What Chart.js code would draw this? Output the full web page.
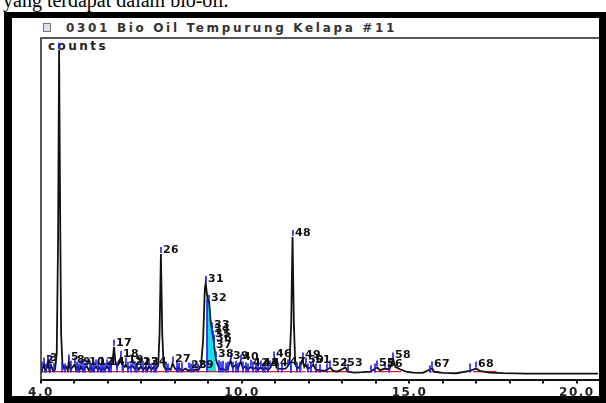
<!DOCTYPE html>
<html>
<head>
<meta charset="utf-8">
<script src="https://cdn.jsdelivr.net/npm/chart.js@4.4.0/dist/chart.umd.min.js"></script>
<style>
  html, body { margin: 0; padding: 0; background: #fff; width: 606px; height: 403px; overflow: hidden; }
  #caption { position: absolute; left: 3px; top: -11px; font: 20px "Liberation Serif", serif; color: #000; white-space: nowrap; }
  #frame { position: absolute; left: 4px; top: 12px; width: 602px; height: 391px; background: #000; }
  #inner { position: absolute; left: 12px; top: 18px; width: 587px; height: 378px; background: #fff; }
  #icon { position: absolute; left: 43px; top: 23px; width: 6px; height: 7px; border: 1px solid #777; background: #dde; }
  #title { position: absolute; left: 66px; top: 21px; font: bold 12px "DejaVu Sans", sans-serif; color: #333; white-space: nowrap; }
  #counts { position: absolute; left: 48px; top: 39px; font: bold 12px "DejaVu Sans", sans-serif; color: #222; white-space: nowrap; }
  canvas { position: absolute; left: 0; top: 0; }
</style>
</head>
<body>
<div id="caption">yang terdapat dalam bio-oil.</div>
<div id="frame"></div>
<div id="inner"></div>
<div id="icon"></div>
<div id="title">0301 Bio Oil Tempurung Kelapa #11</div>
<div id="counts">counts</div>
<canvas id="kromatogram" width="606" height="403"></canvas>
<script>
// retention time (min) and signal height (% of full scale) of the trace
const traceTimes = [4.00, 4.05, 4.09, 4.13, 4.18, 4.21, 4.25, 4.30, 4.36, 4.42, 4.47, 4.51, 4.54, 4.57, 4.60, 4.64, 4.69, 4.74, 4.80, 4.83,
  4.88, 4.95, 5.01, 5.05, 5.10, 5.15, 5.19, 5.25, 5.32, 5.37, 5.43, 5.49, 5.56, 5.64, 5.70, 5.73, 5.79, 5.85, 5.91, 5.97,
  6.03, 6.10, 6.14, 6.18, 6.22, 6.27, 6.32, 6.38, 6.43, 6.50, 6.53, 6.60, 6.68, 6.74, 6.80, 6.86, 6.92, 6.98, 7.05, 7.13,
  7.18, 7.22, 7.30, 7.37, 7.43, 7.50, 7.54, 7.58, 7.62, 7.66, 7.72, 7.80, 7.87, 7.93, 8.00, 8.06, 8.11, 8.20, 8.32, 8.40,
  8.47, 8.55, 8.62, 8.70, 8.78, 8.84, 8.89, 8.92, 8.95, 8.98, 9.02, 9.06, 9.10, 9.12, 9.14, 9.16, 9.18, 9.22, 9.26, 9.30,
  9.36, 9.42, 9.51, 9.58, 9.66, 9.72, 9.81, 9.88, 9.96, 10.03, 10.11, 10.18, 10.26, 10.33, 10.41, 10.48, 10.56, 10.62, 10.70, 10.79,
  10.85, 10.97, 11.03, 11.09, 11.20, 11.30, 11.36, 11.42, 11.47, 11.51, 11.55, 11.59, 11.65, 11.72, 11.81, 11.86, 11.90, 11.96, 12.05, 12.13,
  12.20, 12.30, 12.45, 12.55, 12.64, 12.72, 12.85, 13.09, 13.16, 13.35, 13.60, 13.85, 13.98, 14.04, 14.12, 14.28, 14.40, 14.52, 14.58, 14.73,
  14.90, 15.10, 15.40, 15.68, 15.74, 16.00, 16.40, 16.81, 16.99, 17.10, 17.40, 17.80, 18.50, 19.50, 20.63];
const traceHeights = [0.3, 1.5, 2.7, 0.8, 1.8, 3.5, 1.0, 2.5, 0.8, 1.2, 6, 40, 96.5, 50, 12, 3, 1.5, 2.2, 1.0, 3.6,
  1.2, 2.0, 2.7, 1.0, 2.1, 0.9, 2.1, 1.0, 1.8, 2.1, 1.0, 1.9, 0.9, 2.1, 1.2, 2.0, 0.9, 1.7, 1.1, 2.1,
  1.2, 2.5, 4, 8.0, 3.5, 2.2, 2.8, 4.7, 2.5, 2.0, 2.7, 1.5, 2.1, 2.1, 1.4, 2.1, 1.2, 2.1, 1.0, 2.1,
  1.0, 2.1, 1.2, 2.1, 1.2, 2.5, 12, 35.6, 12, 2.5, 1.2, 1.6, 1.1, 3.0, 1.5, 1.0, 1.8, 0.8, 1.5, 0.8,
  1.2, 0.8, 1.2, 1.0, 2.5, 10, 25, 27.0, 24, 22.0, 21.4, 16, 13.1, 11.9, 10.7, 9.5, 7.4, 4.5, 3, 2.0,
  1.2, 1.5, 1.0, 1.5, 3.9, 1.8, 2.5, 1.5, 3.6, 1.5, 2.2, 1.2, 2.0, 1.3, 1.8, 1.2, 1.8, 1.2, 1.7, 1.2,
  1.8, 4.5, 1.8, 1.5, 1.4, 1.5, 2.1, 3, 15, 40.7, 15, 3, 1.5, 2.0, 4.2, 2.0, 2.7, 1.5, 1.8, 2.7,
  1.2, 1.0, 0.8, 1.2, 1.8, 0.8, 0.6, 1.8, 0.6, 0.3, 0.4, 0.6, 1.5, 1.8, 1.0, 1.5, 1.2, 4.2, 2.0, 1.2,
  0.6, 0.3, 0.2, 1.5, 0.5, 0.2, 0.1, 0.8, 1.5, 0.8, 0.3, 0.1, 0.0, 0.0, 0.0];

// integrated area of peak 32 (cyan)
const areaTimes = [8.96, 8.96, 8.99, 9.02, 9.06, 9.10, 9.14, 9.18, 9.21];
const areaHeights = [0.6, 22.5, 21.8, 21.4, 16, 13.1, 10.7, 7.4, 0.6];

// integration baselines (red): start / end times
const baseStarts = [4.00, 12.00, 13.95, 15.60, 16.90];
const baseEnds = [11.90, 13.20, 14.75, 15.90, 17.60];
const baseLevel = 0.6;

// numbered peaks
const peakLabels = ["2", "3", "5", "8", "9", "10", "12", "14", "17", "18", "19", "21", "23", "24", "26", "27", "28", "29",
  "31", "32", "33", "34", "35", "36", "37", "38", "39", "40", "42", "43", "44", "46", "47", "48", "49", "50", "51",
  "52", "53", "55", "56", "58", "67", "68"];
const peakTimes = [4.09, 4.21, 4.83, 5.01, 5.19, 5.37, 5.64, 5.97, 6.18, 6.38, 6.53, 6.74, 6.98, 7.22, 7.58, 7.93, 8.41, 8.62,
  8.92, 9.02, 9.10, 9.12, 9.14, 9.16, 9.18, 9.22, 9.66, 9.96, 10.26, 10.56, 10.85, 10.97, 11.36, 11.51, 11.81, 11.90, 12.13,
  12.64, 13.09, 14.04, 14.28, 14.52, 15.68, 16.99];
const peakHeights = [2.7, 3.5, 3.6, 2.7, 2.1, 2.1, 2.1, 2.1, 8.0, 4.7, 2.7, 2.1, 2.1, 2.1, 35.6, 3.0, 1.2, 1.2,
  27.0, 21.4, 13.1, 11.9, 10.7, 9.5, 7.4, 4.5, 3.9, 3.6, 2.0, 1.8, 1.8, 4.5, 2.1, 40.7, 4.2, 2.7, 2.7,
  1.8, 1.8, 1.8, 1.5, 4.2, 1.5, 1.5];
const bigPeakTime = 4.54, bigPeakHeight = 96.5;

// unlabelled peak-start markers (blue) and their top heights
const markTimes = [4.03, 4.15, 4.27, 4.40, 4.62, 4.72, 4.90, 5.07, 5.13, 5.25, 5.30, 5.45, 5.52, 5.58, 5.70, 5.79, 5.85, 5.91,
  6.03, 6.10, 6.27, 6.45, 6.60, 6.68, 6.80, 6.86, 7.05, 7.13, 7.28, 7.37, 7.43, 7.72, 7.80, 8.06, 8.11, 8.20, 8.47, 8.55, 8.70,
  8.96, 9.30, 9.36, 9.42, 9.51, 9.58, 9.72, 9.81, 9.88, 10.03, 10.11, 10.18, 10.33, 10.41, 10.48, 10.62, 10.70, 10.79,
  11.09, 11.20, 11.45, 11.65, 11.72, 11.96, 12.05, 12.20, 12.34, 12.55, 13.16, 13.85, 13.98, 14.40, 15.60, 16.81];
const markTops = [3.5, 3.0, 3.8, 3.2, 3.5, 3.0, 3.8, 3.5, 3.0, 3.6, 3.2, 3.8, 3.0, 3.5, 3.6, 3.0, 3.8, 3.2,
  3.5, 4.0, 3.4, 3.8, 3.5, 3.0, 3.6, 3.2, 3.8, 3.5, 3.0, 3.6, 3.2, 3.5, 3.0, 3.6, 3.2, 3.4, 3.0, 3.5, 3.0,
  22, 4.0, 3.5, 3.8, 3.2, 3.6, 3.5, 3.8, 3.2, 3.6, 3.4, 3.0, 3.6, 3.2, 3.5, 3.0, 3.4, 3.2,
  3.2, 3.0, 3.5, 3.2, 3.6, 3.0, 3.2, 3.0, 2.8, 3.0, 2.8, 2.5, 3.0, 2.8, 2.5, 3.0];

// small cyan area slivers
const cyanTimes = [6.41, 9.51, 11.45, 11.75];
const cyanTops = [3.0, 2.5, 2.5, 3.0];

// x-axis
const axisMin = 4.0, axisMax = 20.63;
const axisLabels = [4, 10, 15, 20];

function pts(ts, hs) { return ts.map((t, i) => ({ x: t, y: hs[i] })); }

const baseline = [];
baseStarts.forEach((s, i) => {
  baseline.push({ x: s, y: baseLevel }, { x: baseEnds[i], y: baseLevel }, { x: baseEnds[i], y: null });
});

// stretch the wide header texts like the scanned original
function fitWidth(id, w) {
  const el = document.getElementById(id);
  const n = el.textContent.length;
  const natural = el.getBoundingClientRect().width;
  el.style.letterSpacing = ((w - natural) / n) + "px";
}
fitWidth("title", 331);
fitWidth("counts", 60);

const marks = {
  id: "marks",
  beforeDraw(chart) {
    chart.ctx.letterSpacing = "1.5px";
  },
  afterDatasetsDraw(chart) {
    const { ctx, chartArea, scales: { x, y } } = chart;
    ctx.save();
    ctx.letterSpacing = "0px";
    // plot box
    ctx.strokeStyle = "#222";
    ctx.lineWidth = 1.5;
    ctx.beginPath();
    ctx.moveTo(chartArea.left, chartArea.bottom);
    ctx.lineTo(chartArea.left, chartArea.top);
    ctx.lineTo(chartArea.right + 2, chartArea.top);
    ctx.stroke();

    // cyan slivers
    ctx.strokeStyle = "#12e3ea";
    ctx.lineWidth = 2;
    cyanTimes.forEach((t, i) => {
      const px = Math.round(x.getPixelForValue(t));
      ctx.beginPath();
      ctx.moveTo(px, y.getPixelForValue(0.3));
      ctx.lineTo(px, y.getPixelForValue(cyanTops[i]));
      ctx.stroke();
    });

    // blue markers
    ctx.strokeStyle = "#1c1cf0";
    ctx.lineWidth = 1.6;
    markTimes.forEach((t, i) => {
      const px = Math.round(x.getPixelForValue(t));
      ctx.beginPath();
      ctx.moveTo(px, y.getPixelForValue(0.3));
      ctx.lineTo(px, y.getPixelForValue(markTops[i]));
      ctx.stroke();
    });
    const tick = (t, h) => {
      const px = Math.round(x.getPixelForValue(t));
      const py = y.getPixelForValue(h);
      ctx.beginPath();
      ctx.moveTo(px, py - 1);
      ctx.lineTo(px, py - 7);
      ctx.stroke();
      return [px, py];
    };
    tick(bigPeakTime, bigPeakHeight);
    const pos = peakTimes.map((t, i) => tick(t, peakHeights[i]));

    // peak numbers
    ctx.font = "bold 11px 'DejaVu Sans', sans-serif";
    ctx.letterSpacing = "0.3px";
    ctx.fillStyle = "#111";
    ctx.textBaseline = "middle";
    ctx.textAlign = "left";
    peakLabels.forEach((lab, i) => {
      ctx.fillText(lab, pos[i][0] + 2, pos[i][1] - 4);
    });
    ctx.restore();
  }
};

new Chart(document.getElementById("kromatogram"), {
  type: "line",
  data: {
    datasets: [
      {
        label: "signal",
        data: pts(traceTimes, traceHeights),
        borderColor: "#111",
        borderWidth: 1.8,
        pointRadius: 0,
        tension: 0,
        fill: false
      },
      {
        label: "baseline",
        data: baseline,
        borderColor: "#e8141c",
        borderWidth: 1.2,
        pointRadius: 0,
        spanGaps: false,
        fill: false
      },
      {
        label: "area 32",
        data: pts(areaTimes, areaHeights),
        borderColor: "#12e3ea",
        borderWidth: 1,
        backgroundColor: "#12e3ea",
        pointRadius: 0,
        fill: { value: baseLevel }
      }
    ]
  },
  options: {
    responsive: false,
    animation: false,
    events: [],
    layout: { padding: { left: 41, right: 8, top: 38, bottom: 1 } },
    plugins: { legend: { display: false }, tooltip: { enabled: false } },
    scales: {
      x: {
        type: "linear",
        min: axisMin,
        max: axisMax,
        border: { display: true, color: "#111", width: 2 },
        grid: { display: true, drawOnChartArea: false, drawTicks: true, tickLength: 4, color: "#111", lineWidth: 2 },
        afterBuildTicks: (axis) => {
          axis.ticks = axis.ticks.filter((tk) => Number.isInteger(tk.value));
        },
        ticks: {
          stepSize: 1,
          includeBounds: false,
          autoSkip: false,
          maxRotation: 0,
          padding: 2,
          color: "#222",
          font: { family: "DejaVu Sans", size: 12, weight: "bold" },
          callback: (v) => (axisLabels.includes(v) ? v.toFixed(1) : "")
        }
      },
      y: { display: false, min: -1.8, max: 100 }
    }
  },
  plugins: [marks]
});
</script>
</body>
</html>
